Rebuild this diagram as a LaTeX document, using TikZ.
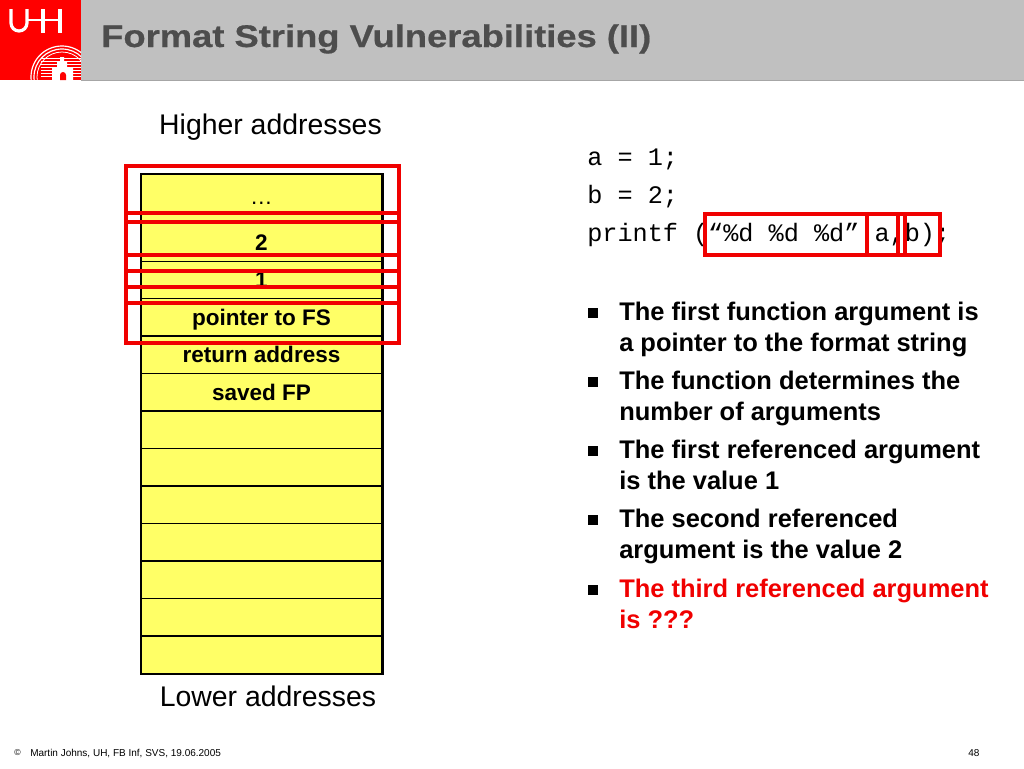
\documentclass[tikz,border=0pt]{standalone}
\usepackage{fontspec}
\setmainfont{Liberation Sans}
\setmonofont{Liberation Mono}
\newfontfamily\titlefont[FakeStretch=1.16,FakeBold=0.6]{Liberation Sans Bold}
\usepackage{xcolor}
\definecolor{headgrey}{HTML}{C0C0C0}
\definecolor{titlegrey}{HTML}{4D4D4D}
\definecolor{cellyellow}{HTML}{FFFF66}
\definecolor{markred}{HTML}{F00000}
\tikzset{
  cell/.style={draw=black,fill=cellyellow,line width=0.75pt,minimum width=180.5pt,inner sep=0pt,anchor=north west},
  celltext/.style={font=\fontsize{16.9}{18}\selectfont\bfseries,anchor=base},
  redbox/.style={draw=markred,line width=3pt},
  label/.style={font=\fontsize{21.3}{24}\selectfont,anchor=base},
  code/.style={font=\fontsize{18.9}{22}\ttfamily,anchor=base west,inner sep=0pt},
  item/.style={font=\fontsize{19.1}{23}\selectfont\bfseries,anchor=base west,inner sep=0pt},
  bullet/.style={fill=black,minimum size=7pt,inner sep=0pt}
}
\begin{document}
\begin{tikzpicture}[x=0.75pt,y=-0.75pt]
  \useasboundingbox (0,0) rectangle (1024,768);
  % header
  \fill[headgrey] (81,0) rectangle (1024,80);
  \fill[black!35] (81,80) rectangle (1024,81);
  \fill[red] (0,0) rectangle (81,80);
  \draw[white,line width=2.4pt] (11,9) -- (11,23) arc[start angle=180,end angle=0,radius=8] -- (27,9);
  \draw[white,line width=1.8pt] (27,20) -- (60,20);
  \draw[white,line width=2.4pt] (43,9) -- (43,33) (60,9) -- (60,33);
  \begin{scope}
    \clip (0,0) rectangle (81,80);
    \draw[white,line width=0.9pt] (62,77) circle (31);
    \draw[white,line width=0.9pt] (62,77) circle (28);
    \draw[white,line width=0.6pt] (62,77) circle (25);
    \foreach \ypos in {58,61,64,67,70,73,76}
      \draw[white,line width=0.6pt] (41,\ypos) -- (81,\ypos);
    \fill[white] (52,80) -- (52,67) -- (57,67) -- (57,62) -- (60,62) -- (60,57) -- (64,57) -- (64,62) -- (67,62) -- (67,67) -- (73,67) -- (73,80) -- cycle;
    \fill[red] (60,80) -- (60,75) arc[start angle=180,end angle=360,radius=3] -- (66,80) -- cycle;
  \end{scope}
  \node[font=\fontsize{23.5}{28}\titlefont,text=titlegrey,anchor=base west,inner sep=0pt] (title) at (101,47) {Format String Vulnerabilities (II)};
  % stack
  \node[label] (high) at (270.5,134) {Higher addresses};
  \node[cell,minimum height=37pt] (c0) at (141,174) {};
  \node[cell,minimum height=28.5pt] (c1) at (141,223) {};
  \node[cell,minimum height=28.1pt] (c2) at (141,261) {};
  \node[cell,minimum height=28.1pt] (c3) at (141,298) {};
  \node[cell,minimum height=28.1pt] (c4) at (141,335.5) {};
  \node[cell,minimum height=28.1pt] (c5) at (141,373) {};
  \foreach \ypos [count=\n from 6] in {410.5,448,485.5,523,560.5,598,635.5}
    \node[cell,minimum height=28.1pt] (c\n) at (141,\ypos) {};
  \draw[black,line width=2.2pt] (c0.north west) rectangle (c12.south east);
  \node[celltext] (t0) at (261.5,204) {\normalfont …};
  \node[celltext] (t1) at (261.5,250) {2};
  \node[celltext] (t2) at (261.5,287) {1};
  \node[celltext] (t3) at (261.5,325) {pointer to FS};
  \node[celltext] (t4) at (261.5,362.5) {return address};
  \node[celltext] (t5) at (261.5,400) {saved FP};
  \node[label] (low) at (268,706) {Lower addresses};
  \draw[redbox] (125.5,166) rectangle (398.5,222);
  \draw[redbox] (125.5,213) rectangle (398.5,271);
  \draw[redbox] (125.5,255) rectangle (398.5,303);
  \draw[redbox] (125.5,287) rectangle (398.5,343);
  % code
  \node[code] (l1) at (587,165) {a = 1;};
  \node[code] (l2) at (587,203) {b = 2;};
  \node[code] (l3) at (587,241) {printf (“\%d \%d \%d” a,b);};
  \draw[redbox] (705,214) rectangle (867,255);
  \draw[redbox] (867,214) rectangle (905,255);
  \draw[redbox] (898,214) rectangle (940,255);
  % bullets
  \node[bullet] (b1) at (593,313) {};
  \node[item] (i1) at (619,320) {The first function argument is};
  \node[item] (i1b) at (619,351) {a pointer to the format string};
  \node[bullet] (b2) at (593,382) {};
  \node[item] (i2) at (619,389) {The function determines the};
  \node[item] (i2b) at (619,420) {number of arguments};
  \node[bullet] (b3) at (593,451) {};
  \node[item] (i3) at (619,458.5) {The first referenced argument};
  \node[item] (i3b) at (619,489) {is the value 1};
  \node[bullet] (b4) at (593,520) {};
  \node[item] (i4) at (619,527.5) {The second referenced};
  \node[item] (i4b) at (619,558.5) {argument is the value 2};
  \node[bullet] (b5) at (593,590) {};
  \node[item,text=markred] (i5) at (619,597) {The third referenced argument};
  \node[item,text=markred] (i5b) at (619,628) {is ???};
  % footer
  \node[font=\fontsize{6.5}{8}\selectfont,anchor=base west,inner sep=0pt] (copy) at (14,755) {©};
  \node[font=\fontsize{7.5}{8}\selectfont,anchor=base west,inner sep=0pt] (foot) at (30,756) {Martin Johns, UH, FB Inf, SVS, 19.06.2005};
  \node[font=\fontsize{7.5}{8}\selectfont,anchor=base west,inner sep=0pt] (page) at (968,756) {48};
\end{tikzpicture}
\end{document}
